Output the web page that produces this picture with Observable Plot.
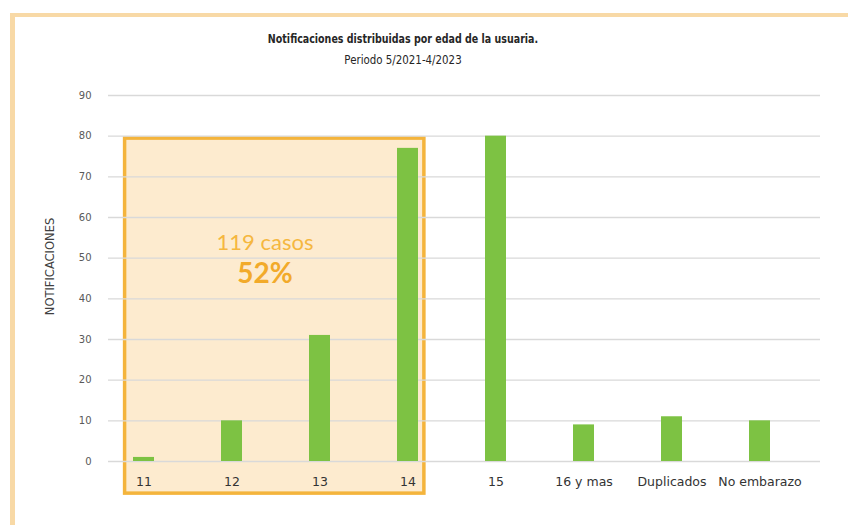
<!DOCTYPE html>
<html>
<head>
<meta charset="utf-8">
<script src="https://cdn.jsdelivr.net/npm/d3@7"></script>
<script src="https://cdn.jsdelivr.net/npm/@observablehq/plot@0.6"></script>
<style>
  html, body { margin: 0; padding: 0; background: #fff; }
  #wrap { position: relative; width: 848px; height: 525px; overflow: hidden; background: #fff; }
  #frame { position: absolute; left: 10px; top: 13px; width: 900px; height: 600px; border-left: 5px solid #f8d9a6; border-top: 4px solid #f8d9a6; box-sizing: border-box; }
  .title { position: absolute; left: 0; width: 806px; text-align: center; font-family: "DejaVu Sans", sans-serif; color: #262626; transform-origin: 403px 50%; }
  #t1 { top: 31px; font-size: 12.5px; font-weight: bold; transform: scaleX(0.76); }
  #t2 { top: 52px; font-size: 12.5px; transform: scaleX(0.82); }
  #chart { position: absolute; left: 0; top: 0; }
</style>
</head>
<body>
<div id="wrap">
  <div id="frame"></div>
  <div class="title" id="t1">Notificaciones distribuidas por edad de la usuaria.</div>
  <div class="title" id="t2">Periodo 5/2021-4/2023</div>
  <div id="chart"></div>
</div>
<script>
const categories = ["11", "12", "13", "14", "15", "16 y mas", "Duplicados", "No embarazo"];
const values = [1, 10, 31, 77, 80, 9, 11, 10];
const yTicks = [0, 10, 20, 30, 40, 50, 60, 70, 80, 90];
const highlighted = ["11", "12", "13", "14"];

const data = categories.map((c, i) => ({category: c, value: values[i]}));
const total = d3.sum(values);
const highlightSum = d3.sum(data.filter(d => highlighted.includes(d.category)), d => d.value);
const highlightPct = Math.round(100 * highlightSum / total);
const casosLabel = [{label: `${highlightSum} casos`, y: 53.8}];
const pctLabel = [{label: `${highlightPct}%`, y: 46.0}];

const plot = Plot.plot({
  width: 848,
  height: 525,
  marginLeft: 99,
  marginRight: 44,
  marginTop: 95,
  marginBottom: 64,
  style: {fontFamily: "'DejaVu Sans', sans-serif", background: "transparent"},
  x: {domain: categories, paddingInner: 0.76, paddingOuter: 0.38, label: null},
  y: {domain: [0, 90], label: null},
  marks: [
    Plot.ruleY(yTicks, {stroke: "#d9d9d9", strokeWidth: 1.4, insetLeft: 9, insetRight: -16}),
    Plot.barY(data, {x: "category", y: "value", fill: "#7dc243"}),
    Plot.axisY({ticks: yTicks, tickSize: 0, tickPadding: 8, fontSize: 10, color: "#595959",
      label: "NOTIFICACIONES", labelAnchor: "center", labelArrow: "none", labelOffset: 54}),
    Plot.axisX({tickSize: 0, tickPadding: 16, fontSize: 12.5, color: "#333333", label: null}),
    Plot.text(casosLabel, {x: () => "12", dx: 33, y: "y", text: "label", fontSize: 22, fill: "#f5b740", fontFamily: "Lato, 'Open Sans', sans-serif"}),
    Plot.text(pctLabel, {x: () => "12", dx: 33, y: "y", text: "label", fontSize: 28, fontWeight: "bold", fill: "#f2aa2a", fontFamily: "Lato, 'Open Sans', sans-serif"})
  ]
});

// Highlight box drawn with the plot's own scales
const xs = plot.scale("x");
const ys = plot.scale("y");
const bw = xs.bandwidth;
const c11 = xs.apply("11") + bw / 2;
const c14 = xs.apply("14") + bw / 2;
const boxLeft = c11 - 0.9 * bw;
const boxRight = c14 + 0.78 * bw;
const boxTop = ys.apply(79.4);
const boxBottom = ys.apply(-7.9);
d3.select(plot).insert("rect", ":scope > g")
  .attr("x", boxLeft).attr("y", boxTop)
  .attr("width", boxRight - boxLeft).attr("height", boxBottom - boxTop)
  .attr("fill", "#fdebcf").attr("stroke", "#f4b43c").attr("stroke-width", 3.5);

d3.select(plot).selectAll("g[aria-label='y-axis label'] text")
  .attr("font-size", 11.5).attr("fill", "#404040").attr("dx", 12);

document.getElementById("chart").appendChild(plot);
</script>
</body>
</html>
